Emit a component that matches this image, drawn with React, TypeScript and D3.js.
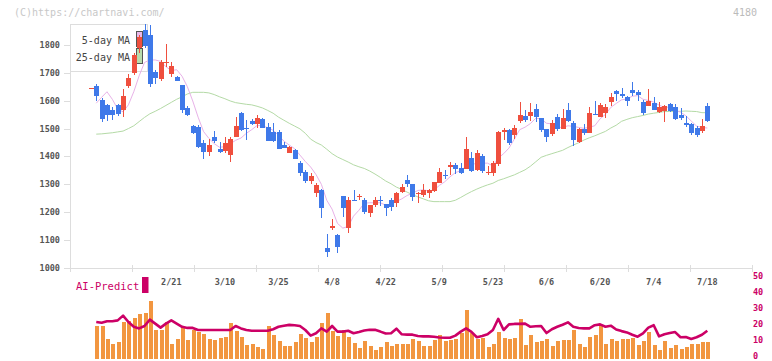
import React from 'react';
import * as d3 from 'd3';

const W = 772;
const H = 361;

const dateLabels = ['2/21', '3/10', '3/25', '4/8', '4/22', '5/9', '5/23', '6/6', '6/20', '7/4', '7/18'];
const dateLabelIndex = [15, 25, 35, 45, 55, 65, 75, 85, 95, 105, 115];
const priceTicks = [1000, 1100, 1200, 1300, 1400, 1500, 1600, 1700, 1800];
const rightTicks = [0, 10, 20, 30, 40, 50];

const open = [
  1645, 1653, 1603, 1584, 1567, 1583, 1567, 1654, 1698, 1788,
  1854, 1836, 1702, 1677, 1737, 1696, 1686, 1657, 1575, 1509,
  1507, 1449, 1417, 1471, 1427, 1420, 1405, 1468, 1555, 1501,
  1527, 1517, 1533, 1505, 1487, 1487, 1441, 1411, 1423, 1375,
  1343, 1311, 1269, 1280, 1071, 1145, 1118, 1258, 1145, 1245,
  1256, 1244, 1199, 1226, 1244, 1230, 1244, 1234, 1273, 1316,
  1301, 1266, 1262, 1270, 1277, 1306, 1335, 1361, 1369, 1359,
  1356, 1396, 1352, 1402, 1344, 1340, 1372, 1487, 1495, 1477,
  1527, 1545, 1545, 1570, 1538, 1497, 1481, 1540, 1499, 1566,
  1521, 1453, 1497, 1485, 1554, 1543, 1555, 1597, 1633, 1624,
  1612, 1639, 1631, 1595, 1582, 1591, 1560, 1564, 1587, 1576,
  1547, 1519, 1516, 1503, 1493, 1581,
];
const high = [
  1646, 1660, 1608, 1588, 1576, 1588, 1642, 1695, 1770, 1835,
  1875, 1872, 1710, 1746, 1804, 1739, 1687, 1657, 1580, 1512,
  1512, 1460, 1463, 1492, 1451, 1469, 1469, 1540, 1561, 1531,
  1536, 1549, 1537, 1521, 1519, 1495, 1451, 1437, 1426, 1385,
  1350, 1340, 1306, 1285, 1121, 1175, 1121, 1258, 1253, 1280,
  1265, 1250, 1226, 1253, 1258, 1230, 1250, 1274, 1300, 1334,
  1301, 1272, 1301, 1282, 1310, 1359, 1352, 1381, 1378, 1375,
  1471, 1417, 1423, 1409, 1364, 1383, 1491, 1502, 1497, 1513,
  1597, 1567, 1590, 1588, 1538, 1500, 1531, 1552, 1570, 1590,
  1527, 1501, 1515, 1576, 1599, 1593, 1587, 1627, 1639, 1645,
  1617, 1666, 1639, 1603, 1642, 1613, 1597, 1585, 1591, 1588,
  1573, 1545, 1521, 1511, 1535, 1591,
];
const low = [
  1644, 1599, 1525, 1528, 1530, 1545, 1543, 1645, 1692, 1770,
  1790, 1650, 1660, 1671, 1722, 1686, 1670, 1555, 1545, 1480,
  1432, 1391, 1403, 1447, 1414, 1411, 1381, 1468, 1493, 1459,
  1513, 1501, 1503, 1457, 1453, 1426, 1429, 1411, 1390, 1331,
  1306, 1303, 1256, 1181, 1038, 1136, 1055, 1182, 1127, 1244,
  1244, 1194, 1184, 1220, 1224, 1187, 1206, 1220, 1268, 1292,
  1242, 1234, 1256, 1252, 1274, 1304, 1318, 1335, 1337, 1337,
  1355, 1346, 1349, 1340, 1332, 1331, 1364, 1459, 1442, 1463,
  1519, 1525, 1527, 1525, 1489, 1453, 1474, 1493, 1499, 1525,
  1439, 1450, 1478, 1485, 1549, 1540, 1539, 1582, 1600, 1609,
  1582, 1617, 1600, 1549, 1582, 1567, 1555, 1525, 1560, 1531,
  1531, 1507, 1477, 1471, 1484, 1524,
];
const close = [
  1646, 1618, 1533, 1549, 1547, 1552, 1617, 1680, 1764, 1830,
  1795, 1660, 1680, 1739, 1738, 1725, 1672, 1567, 1549, 1483,
  1435, 1415, 1441, 1457, 1415, 1447, 1463, 1509, 1495, 1500,
  1515, 1538, 1503, 1457, 1457, 1426, 1432, 1435, 1392, 1342,
  1311, 1331, 1298, 1216, 1059, 1150, 1075, 1216, 1244, 1244,
  1258, 1200, 1226, 1244, 1241, 1216, 1220, 1270, 1292, 1301,
  1256, 1270, 1280, 1280, 1307, 1343, 1333, 1370, 1356, 1342,
  1427, 1349, 1411, 1349, 1345, 1375, 1488, 1495, 1447, 1503,
  1549, 1531, 1560, 1542, 1495, 1468, 1519, 1499, 1537, 1527,
  1459, 1499, 1485, 1555, 1552, 1584, 1579, 1612, 1625, 1616,
  1600, 1629, 1621, 1557, 1600, 1567, 1576, 1581, 1563, 1536,
  1537, 1512, 1485, 1477, 1508, 1527,
];
const ma5 = [
  null, 1591, 1612, 1632, 1605, 1570, 1560, 1585, 1632, 1689,
  1737, 1746, 1746, 1741, 1722, 1708, 1711, 1688, 1650, 1599,
  1541, 1490, 1465, 1446, 1433, 1435, 1445, 1458, 1466, 1483,
  1496, 1511, 1510, 1503, 1494, 1476, 1455, 1441, 1428, 1405,
  1382, 1362, 1335, 1300, 1243, 1211, 1160, 1143, 1149, 1186,
  1207, 1232, 1234, 1234, 1234, 1225, 1229, 1238, 1248, 1260,
  1268, 1278, 1280, 1277, 1279, 1296, 1309, 1327, 1342, 1349,
  1366, 1369, 1377, 1376, 1376, 1366, 1394, 1410, 1430, 1462,
  1496, 1505, 1518, 1537, 1535, 1519, 1517, 1505, 1504, 1510,
  1508, 1504, 1501, 1505, 1510, 1535, 1551, 1576, 1590, 1603,
  1606, 1616, 1618, 1605, 1601, 1595, 1584, 1576, 1577, 1565,
  1559, 1546, 1527, 1509, 1504, 1502,
];
const ma25 = [
  null, 1480, 1481, 1483, 1485, 1488, 1491, 1500, 1510, 1525,
  1540, 1553, 1562, 1572, 1583, 1594, 1605, 1614, 1624, 1630,
  1630, 1630, 1628, 1622, 1614, 1607, 1599, 1593, 1590, 1587,
  1585, 1580, 1574, 1565, 1555, 1541, 1530, 1519, 1509, 1499,
  1483, 1462, 1450, 1441, 1426, 1410, 1398, 1389, 1380, 1370,
  1363, 1357, 1348, 1337, 1325, 1312, 1302, 1290, 1282, 1272,
  1263, 1255, 1248, 1241, 1238, 1238, 1238, 1238, 1243, 1253,
  1264, 1274, 1283, 1291, 1298, 1304, 1314, 1320, 1327, 1334,
  1343, 1352, 1365, 1381, 1397, 1404, 1410, 1416, 1422, 1432,
  1441, 1449, 1459, 1467, 1474, 1482, 1490, 1502, 1512, 1526,
  1533, 1539, 1543, 1547, 1552, 1555, 1558, 1561, 1561, 1561,
  1562, 1563, 1562, 1561, 1557, 1557,
];
const volume = [
  null, 20, 20, 11.9, 8.8, 10.2, 22.5, 23.1, 25, 27.7,
  28.3, 35.6, 17.5, 17.5, 22.5, 8.8, 11.9, 18.8, 11.3, 17.5,
  16.3, 15, 11.9, 11.3, 12.5, 13.1, 22.1, 16.9, 13.1, 8.1,
  9, 6.9, 5.6, 20, 14.4, 10.8, 7.5, 7.5, 10, 15,
  12.5, 10, 13.1, 21.9, 28.1, 16.9, 13.8, 17.5, 13.1, 9.4,
  6.3, 10.6, 7.5, 5, 6.9, 10, 7.5, 8.8, 8.8, 8.8,
  11.9, 10.6, 7.5, 7.5, 11.3, 14.4, 10.6, 11.3, 11.9, 15.6,
  30, 15.6, 11.9, 12.5, 6.9, 8.8, 16.3, 12.5, 11.9, 12.5,
  24.4, 8.1, 14.4, 10, 10.6, 11.9, 7.5, 10.6, 11.3, 11.3,
  17.5, 8.8, 6.9, 13.1, 14.4, 20.6, 8.8, 11.9, 10.6, 11.9,
  11.9, 12.5, 8.1, 10.6, 16.3, 8.1, 5, 10.6, 6.3, 8.1,
  5.6, 6.9, 8.8, 8.8, 10, 10,
];
const aiPredict = [
  null, 22.5, 22, 23, 23, 23.5, 26.5, 22.5, 19.5, 18.5,
  20, 24, 21.5, 19, 21.5, 23.5, 21.5, 19.5, 18.8, 18.8,
  17.5, 17.5, 17.5, 17.5, 17.5, 17.5, 17.5, 20, 18.5, 17.5,
  17, 17, 17, 17, 18, 19.5, 20.2, 20.7, 20.5, 20,
  17.5, 14, 15.5, 18.5, 16.5, 20, 16.5, 16.5, 17, 15.5,
  16.3, 17.2, 17.7, 17.6, 16.5, 15.3, 15.5, 18.3, 14.8, 14.6,
  14.6, 13.8, 13.5, 13.5, 13.3, 12.8, 12.7, 12.7, 14, 16.5,
  18.5, 16.3, 13, 13.8, 14.8, 17.5, 24.5, 17.5, 21, 21.3,
  21.3, 21.5, 19.5, 19.8, 20, 15.6, 18, 19.5, 20.8, 22.3,
  19.6, 18.8, 18.5, 18.5, 20.5, 21, 19.5, 20.2, 17.8, 16.8,
  16, 14.5, 13.3, 15.4, 19, 20.5, 13.5, 14.8, 15.6, 16.2,
  13, 13.1, 11.9, 13, 14.5, 17,
];

const UP = '#ef4f3e';
const DOWN = '#3f79e9';
const MONO = '"DejaVu Sans Mono", "Liberation Mono", monospace';
const CRIMSON = '#cc0066';

export default function App() {
  const n = close.length;
  const x = d3.scaleLinear().domain([0, n - 1]).range([90.9, 707.3]);
  const y = d3.scaleLinear().domain([1000, 1875]).range([268, 24]);
  const yv = d3.scaleLinear().domain([0, 50]).range([358, 278]);
  const grid = d3.scaleLinear().domain([0, 11]).range([70, 752]);
  const gridTicks = d3.range(0, 12);

  const maLine = d3
    .line<number | null>()
    .defined((d) => d != null)
    .x((_, i) => x(i))
    .y((d) => y(d as number));
  const aiLine = d3
    .line<number | null>()
    .defined((d) => d != null)
    .x((_, i) => x(i))
    .y((d) => yv(d as number));

  const idx = d3.range(n);

  return (
    <svg
      width={W}
      height={H}
      style={{ position: 'absolute', left: 0, top: 0, background: '#fff' }}
      fontFamily={MONO}
    >
      <rect x={0} y={0} width={W} height={H} fill="#fff" />
      <text x={14} y={16} fontSize={10} fill="#c8c8c8">(C)https://chartnavi.com/</text>
      <text x={757} y={16} fontSize={10} fill="#bbbbbb" textAnchor="end">4180</text>

      {/* axes */}
      <g shapeRendering="crispEdges" stroke="#dddddd">
        <line x1={70.5} y1={24} x2={70.5} y2={268} />
        <line x1={70} y1={268.5} x2={752} y2={268.5} />
        {priceTicks.map((p) => (
          <line key={p} x1={64} x2={70} y1={Math.round(y(p)) + 0.5} y2={Math.round(y(p)) + 0.5} />
        ))}
        {gridTicks.map((t) => (
          <line key={t} x1={Math.round(grid(t)) + 0.5} x2={Math.round(grid(t)) + 0.5} y1={265} y2={272} />
        ))}
      </g>
      {priceTicks.map((p) => (
        <text key={p} x={60} y={y(p)} dy="0.35em" fontSize={8.5} fill="#555" textAnchor="end" fontWeight="bold">
          {p}
        </text>
      ))}

      {/* legend */}
      <g shapeRendering="crispEdges">
        <rect x={70.5} y={24.5} width={77} height={47} fill="#fff" stroke="#dddddd" />
        <rect x={136.5} y={31.5} width={6} height={15} fill="#eab8ea" stroke="#555" />
        <rect x={136.5} y={48.5} width={6} height={15} fill="#b8dcac" stroke="#555" />
      </g>
      <text x={130} y={44} fontSize={10} fill="#444" textAnchor="end">5-day MA</text>
      <text x={130} y={61} fontSize={10} fill="#444" textAnchor="end">25-day MA</text>

      {/* moving averages */}
      <path d={maLine(ma25) || ''} fill="none" stroke="#b4daa6" strokeWidth={1} />
      <path d={maLine(ma5) || ''} fill="none" stroke="#e8b2e8" strokeWidth={1} />

      {/* candles */}
      <g shapeRendering="crispEdges">
        {idx.map((i) => {
          const up = close[i] >= open[i];
          const c = up ? UP : DOWN;
          const cx = Math.round(x(i));
          const top = Math.round(y(Math.max(open[i], close[i])));
          const bot = Math.round(y(Math.min(open[i], close[i])));
          return (
            <g key={i}>
              <rect x={cx} y={Math.round(y(high[i]))} width={1} height={Math.max(1, Math.round(y(low[i])) - Math.round(y(high[i])))} fill={c} />
              <rect x={cx - 2} y={top} width={5} height={Math.max(1, bot - top)} fill={c} />
            </g>
          );
        })}
      </g>

      {/* AI-Predict panel */}
      <text x={76} y={290} fontSize={10.5} fill={CRIMSON}>AI-Predict</text>
      <rect x={142} y={277} width={6.5} height={16} fill={CRIMSON} />
      {dateLabels.map((lab, k) => (
        <text key={lab} x={x(dateLabelIndex[k])} y={285} fontSize={8.5} fill="#555" textAnchor="middle" fontWeight="bold">
          {lab}
        </text>
      ))}
      {rightTicks.map((t) => (
        <text key={t} x={753} y={yv(t) - 1.5} dy="0.35em" fontSize={8.5} fill={CRIMSON} fontWeight="bold">
          {t}
        </text>
      ))}
      <g shapeRendering="crispEdges">
        {idx.map((i) =>
          volume[i] == null ? null : (
            <rect
              key={i}
              x={Math.round(x(i)) - 1.5}
              y={Math.round(yv(volume[i] as number))}
              width={4}
              height={359 - Math.round(yv(volume[i] as number))}
              fill="#f29640"
            />
          )
        )}
      </g>
      <path d={aiLine(aiPredict) || ''} fill="none" stroke={CRIMSON} strokeWidth={2.6} strokeLinejoin="round" />
    </svg>
  );
}
